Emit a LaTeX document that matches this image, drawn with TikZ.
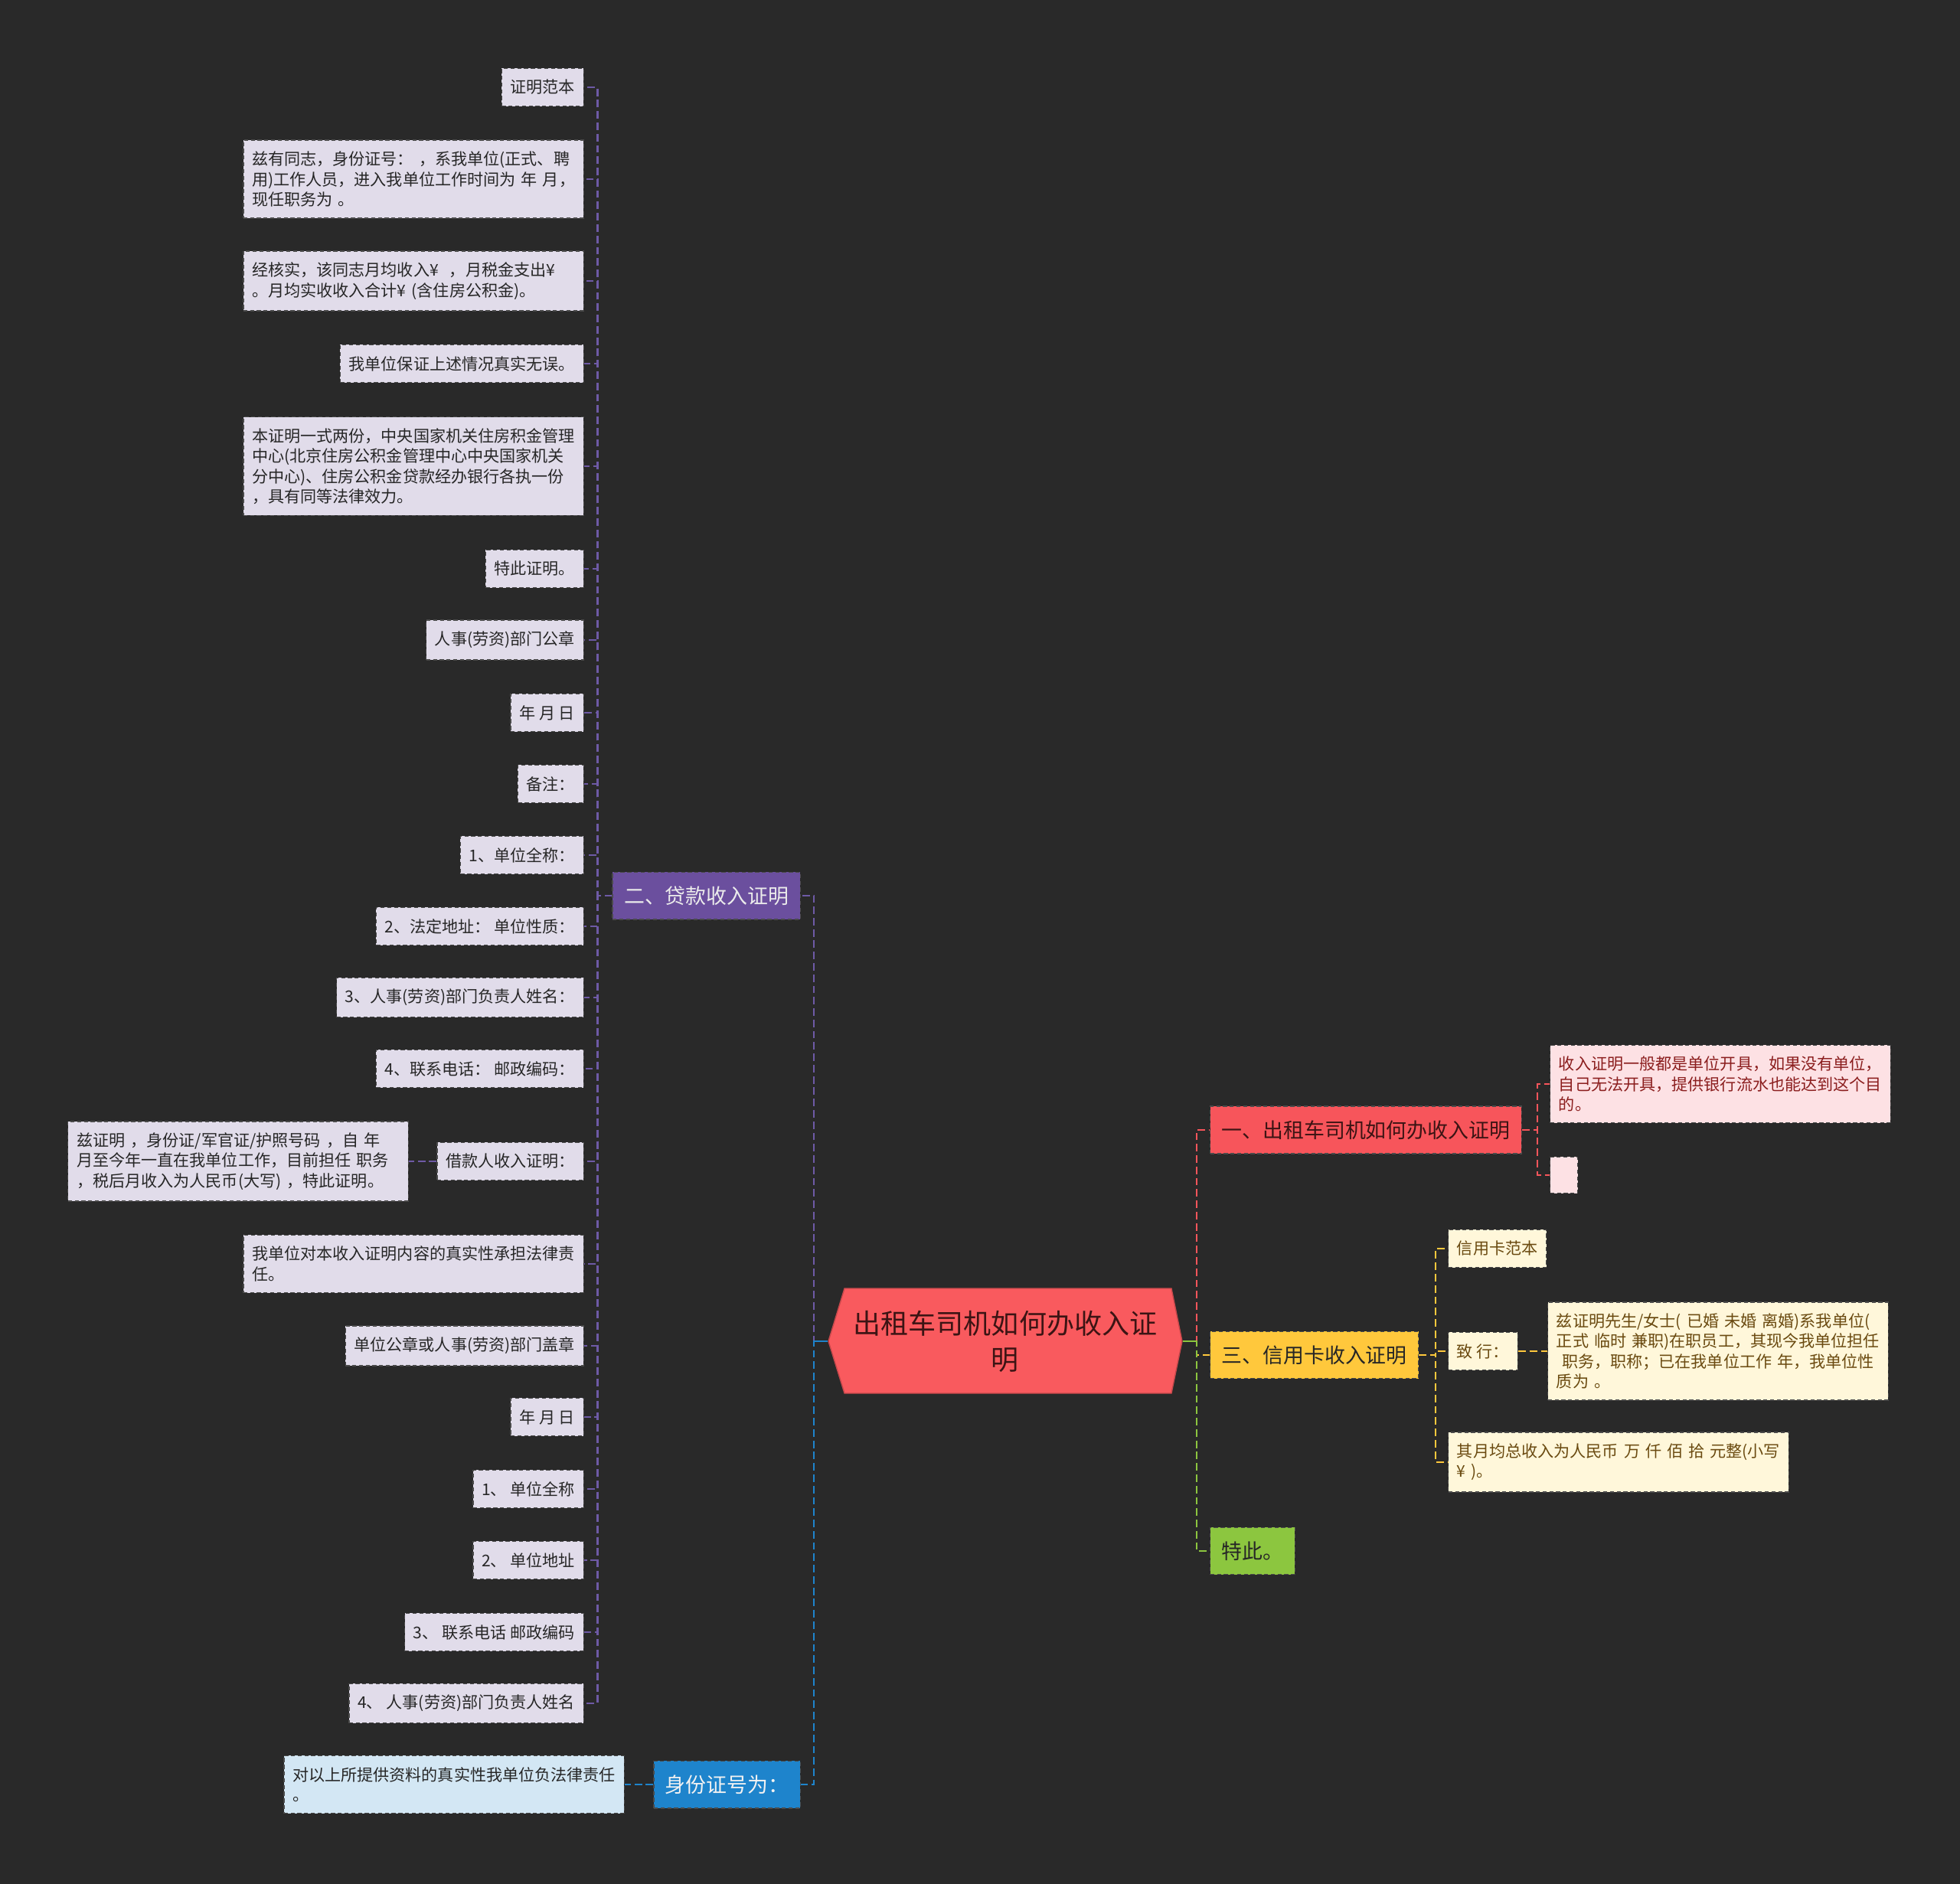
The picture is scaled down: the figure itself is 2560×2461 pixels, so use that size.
\documentclass[tikz,border=0pt]{standalone}
\usepackage{fontspec}
\setmainfont{Noto Sans CJK SC}
\definecolor{bg}{HTML}{292929}
\definecolor{mainred}{HTML}{F95A5E}
\definecolor{maintext}{HTML}{3C1414}
\definecolor{purp}{HTML}{6B4F9E}
\definecolor{purpline}{HTML}{6E5AA6}
\definecolor{blu}{HTML}{1E84CC}
\definecolor{bluleaf}{HTML}{D3E7F4}
\definecolor{redb}{HTML}{F7555B}
\definecolor{yel}{HTML}{FFC83C}
\definecolor{grn}{HTML}{8CC63F}
\definecolor{lavender}{HTML}{E1DCEA}
\definecolor{pinkleaf}{HTML}{FDE1E4}
\definecolor{pinktext}{HTML}{8B1E1E}
\definecolor{yelleaf}{HTML}{FFF7DA}
\definecolor{yeltext}{HTML}{6A4A10}
\definecolor{boxline}{HTML}{4A4A4A}
\tikzset{
  box/.style={draw=boxline,dash pattern=on 1.5pt off 1pt,line width=0.4pt},
  leaf/.style={box,fill=lavender,text=black!85,font=\fontsize{6}{7.5}\selectfont,inner xsep=3.2pt,inner ysep=4.2pt},
  wide/.style={text width=120pt,align=left},
  branch/.style={box,font=\fontsize{7.65}{9.5}\selectfont,inner xsep=4.25pt,inner ysep=5.2pt},
  maintopic/.style={minimum width=4.62cm,minimum height=1.37cm,inner sep=0pt,align=center,
    text=maintext,font=\fontsize{10.25}{13.3}\selectfont},
  link/.style={dash pattern=on 2.8pt off 1.4pt,line width=0.6pt},
}
\begin{document}
\begin{tikzpicture}[x=0.01cm,y=-0.01cm]
\fill[bg] (0,0) rectangle (2560,2461);
% central topic
\fill[mainred,draw=mainred!80!black,line width=0.4pt] (1082,1752) -- (1103,1683) -- (1530,1683) -- (1544,1752) -- (1530,1820) -- (1103,1820) -- cycle;
\node[maintopic] (main) at (1313,1752) {出租车司机如何办收入证\\明};

% branches
\node[branch,fill=purp,text=white!92!black,anchor=east] (daikuan) at (1046,1170) {二、贷款收入证明};
\node[branch,fill=blu,text=white!95!black,anchor=east] (sfz) at (1046,2331) {身份证号为：};
\node[branch,fill=redb,text=maintext,anchor=west] (yi) at (1580,1476) {一、出租车司机如何办收入证明};
\node[branch,fill=yel,text=black!85,anchor=west] (san) at (1580,1770) {三、信用卡收入证明};
\node[branch,fill=grn,text=black!85,anchor=west] (teci) at (1580,2026) {特此。};

% left leaves
\node[leaf,anchor=east] (d1) at (763,114) {证明范本};
\node[leaf,wide,anchor=east] (d2) at (763,234) {兹有同志，身份证号：~，系我单位(正式、聘\\用)工作人员，进入我单位工作时间为~年~月，\\现任职务为~。};
\node[leaf,wide,anchor=east] (d3) at (763,367) {经核实，该同志月均收入¥~~，月税金支出¥\\。月均实收收入合计¥~(含住房公积金)。};
\node[leaf,anchor=east] (d4) at (763,475) {我单位保证上述情况真实无误。};
\node[leaf,wide,anchor=east] (d5) at (763,609) {本证明一式两份，中央国家机关住房积金管理\\中心(北京住房公积金管理中心中央国家机关\\分中心)、住房公积金贷款经办银行各执一份\\，具有同等法律效力。};
\node[leaf,anchor=east] (d6) at (763,743) {特此证明。};
\node[leaf,anchor=east] (d7) at (763,836) {人事(劳资)部门公章};
\node[leaf,anchor=east] (d8) at (763,931) {年 月 日};
\node[leaf,anchor=east] (d9) at (763,1024) {备注：};
\node[leaf,anchor=east] (d10) at (763,1117) {1、单位全称：};
\node[leaf,anchor=east] (d11) at (763,1210) {2、法定地址： 单位性质：};
\node[leaf,anchor=east] (d12) at (763,1303) {3、人事(劳资)部门负责人姓名：};
\node[leaf,anchor=east] (d13) at (763,1396) {4、联系电话： 邮政编码：};
\node[leaf,anchor=east] (d14) at (763,1517) {借款人收入证明：};
\node[leaf,wide,anchor=east] (d14a) at (534,1517) {兹证明~，身份证/军官证/护照号码~，自~年\\月至今年一直在我单位工作，目前担任~职务\\，税后月收入为人民币(大写)~，特此证明。};
\node[leaf,wide,anchor=east] (d15) at (763,1651) {我单位对本收入证明内容的真实性承担法律责\\任。};
\node[leaf,anchor=east] (d16) at (763,1758) {单位公章或人事(劳资)部门盖章};
\node[leaf,anchor=east] (d17) at (763,1851) {年 月 日};
\node[leaf,anchor=east] (d18) at (763,1945) {1、 单位全称};
\node[leaf,anchor=east] (d19) at (763,2038) {2、 单位地址};
\node[leaf,anchor=east] (d20) at (763,2132) {3、 联系电话 邮政编码};
\node[leaf,anchor=east] (d21) at (763,2225) {4、 人事(劳资)部门负责人姓名};
\node[leaf,wide,fill=bluleaf,anchor=east] (sfza) at (816,2331) {对以上所提供资料的真实性我单位负法律责任\\。};

% right leaves
\node[leaf,wide,fill=pinkleaf,text=pinktext,anchor=west] (yia) at (2024,1416) {收入证明一般都是单位开具，如果没有单位，\\自己无法开具，提供银行流水也能达到这个目\\的。};
\node[box,fill=pinkleaf,anchor=west,minimum width=0.36cm,minimum height=0.47cm,inner sep=0pt] (yib) at (2024,1535) {};
\node[leaf,fill=yelleaf,text=yeltext,anchor=west] (sana) at (1891,1631) {信用卡范本};
\node[leaf,fill=yelleaf,text=yeltext,anchor=west] (sanb) at (1891,1765) {致 行：};
\node[leaf,wide,fill=yelleaf,text=yeltext,anchor=west] (sanb1) at (2021,1765) {兹证明先生/女士(~已婚~未婚~离婚)系我单位(\\正式~临时~兼职)在职员工，其现今我单位担任\\~职务，职称；已在我单位工作~年，我单位性\\质为~。};
\node[leaf,wide,fill=yelleaf,text=yeltext,anchor=west] (sanc) at (1891,1910) {其月均总收入为人民币~万~仟~佰~拾~元整(小写\\¥~)。};

% connectors
\draw[link,purpline] (main.west) -- ++(-18,0) |- (daikuan.east);
\draw[link,blu] (main.west) -- ++(-18,0) |- (sfz.east);
\draw[link,redb] (main.east) -- ++(18,0) |- (yi.west);
\draw[link,yel] (main.east) -- ++(18,0) |- (san.west);
\draw[link,grn] (main.east) -- ++(18,0) |- (teci.west);
\draw[blu,line width=0.8pt] (main.west) -- ++(-18,0);
\draw[grn,line width=0.8pt] (main.east) -- ++(18,0);
\foreach \n in {d1,d2,d3,d4,d5,d6,d7,d8,d9,d10,d11,d12,d13,d14,d15,d16,d17,d18,d19,d20,d21}
  \draw[link,purpline] (daikuan.west) -- ++(-19,0) |- (\n.east);
\draw[link,purpline] (d14.west) -- (d14a.east);
\draw[link,blu] (sfz.west) -- (sfza.east);
\draw[link,redb] (yi.east) -- ++(20,0) |- (yia.west);
\draw[link,redb] (yi.east) -- ++(20,0) |- (yib.west);
\draw[link,yel] (san.east) -- ++(22,0) |- (sana.west);
\draw[link,yel] (san.east) -- ++(22,0) |- (sanb.west);
\draw[link,yel] (san.east) -- ++(22,0) |- (sanc.west);
\draw[link,yel] (sanb.east) -- (sanb1.west);
\end{tikzpicture}
\end{document}
